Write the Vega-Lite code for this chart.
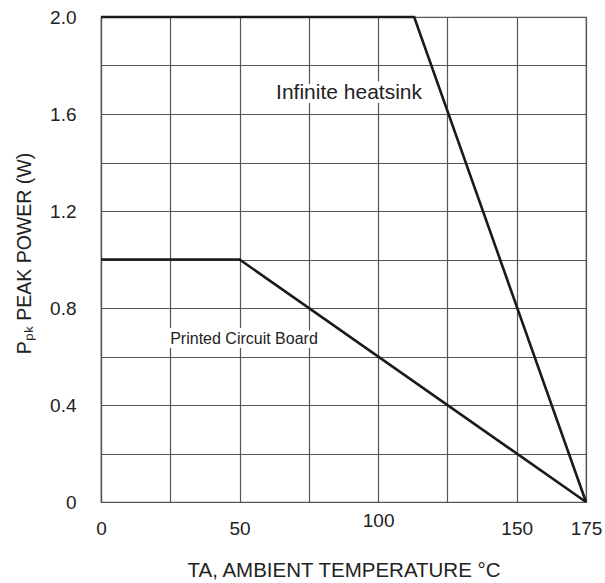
{
  "$schema": "https://vega.github.io/schema/vega-lite/v6.json",
  "width": 485,
  "height": 485,
  "autosize": {"type": "none"},
  "padding": {"left": 101, "top": 17, "right": 19, "bottom": 81},
  "background": "white",
  "config": {
    "view": {"stroke": "#555555", "strokeWidth": 1.2},
    "font": "Liberation Sans",
    "axis": {
      "labelFont": "Liberation Sans",
      "titleFont": "Liberation Sans",
      "labelColor": "#222222",
      "titleColor": "#222222",
      "titleFontWeight": "normal",
      "gridColor": "#555555",
      "gridWidth": 1.2,
      "gridOpacity": 1,
      "domainColor": "#555555",
      "domainWidth": 1.2,
      "ticks": false
    }
  },
  "datasets": {
    "curves": [
      {"series": "Infinite heatsink", "temp": 0, "power": 2.0},
      {"series": "Infinite heatsink", "temp": 113, "power": 2.0},
      {"series": "Infinite heatsink", "temp": 175, "power": 0},
      {"series": "Printed Circuit Board", "temp": 0, "power": 1.0},
      {"series": "Printed Circuit Board", "temp": 50, "power": 1.0},
      {"series": "Printed Circuit Board", "temp": 175, "power": 0}
    ],
    "labels": [
      {"label": "Infinite heatsink", "temp": 89.5, "power": 1.687},
      {"label": "Printed Circuit Board", "temp": 51.6, "power": 0.672}
    ]
  },
  "layer": [
    {
      "data": {"name": "curves"},
      "mark": {"type": "line", "color": "#1a1a1a", "strokeWidth": 2.6, "clip": false},
      "encoding": {
        "x": {
          "field": "temp", "type": "quantitative",
          "scale": {"domain": [0, 175], "nice": false, "zero": false},
          "axis": {
            "values": [0, 25, 50, 75, 100, 125, 150, 175],
            "labelExpr": "(datum.value == 25 || datum.value == 75 || datum.value == 125) ? '' : datum.label",
            "labelFontSize": 19,
            "labelPadding": {"expr": "datum.value == 100 ? 9 : 17"},
            "labelFlush": false,
            "title": "TA, AMBIENT TEMPERATURE °C",
            "titleFontSize": 20.5,
            "titlePadding": 22
          }
        },
        "y": {
          "field": "power", "type": "quantitative",
          "scale": {"domain": [0, 2], "nice": false},
          "axis": {
            "values": [0, 0.2, 0.4, 0.6, 0.8, 1.0, 1.2, 1.4, 1.6, 1.8, 2.0],
            "labelExpr": "datum.value == 0 ? '0' : (round(datum.value * 10) % 4 == 0 ? format(datum.value, '.1f') : '')",
            "labelFontSize": 19,
            "labelPadding": 25,
            "labelFlush": false,
            "title": "Pₚₖ PEAK POWER (W)",
            "titleFontSize": 19.5,
            "titlePadding": 15,
            "titleY": 236
          }
        },
        "detail": {"field": "series"}
      }
    },
    {
      "data": {"name": "labels"},
      "transform": [{"filter": "datum.label == 'Infinite heatsink'"}],
      "mark": {"type": "text", "fontSize": 21, "font": "Liberation Sans", "stroke": "white", "strokeWidth": 8, "fill": "white"},
      "encoding": {
        "x": {"field": "temp", "type": "quantitative"},
        "y": {"field": "power", "type": "quantitative"},
        "text": {"field": "label"}
      }
    },
    {
      "data": {"name": "labels"},
      "transform": [{"filter": "datum.label == 'Infinite heatsink'"}],
      "mark": {"type": "text", "fontSize": 21, "font": "Liberation Sans", "fill": "#222222"},
      "encoding": {
        "x": {"field": "temp", "type": "quantitative"},
        "y": {"field": "power", "type": "quantitative"},
        "text": {"field": "label"}
      }
    },
    {
      "data": {"name": "labels"},
      "transform": [{"filter": "datum.label == 'Printed Circuit Board'"}],
      "mark": {"type": "text", "fontSize": 16, "font": "Liberation Sans", "stroke": "white", "strokeWidth": 8, "fill": "white"},
      "encoding": {
        "x": {"field": "temp", "type": "quantitative"},
        "y": {"field": "power", "type": "quantitative"},
        "text": {"field": "label"}
      }
    },
    {
      "data": {"name": "labels"},
      "transform": [{"filter": "datum.label == 'Printed Circuit Board'"}],
      "mark": {"type": "text", "fontSize": 16, "font": "Liberation Sans", "fill": "#222222"},
      "encoding": {
        "x": {"field": "temp", "type": "quantitative"},
        "y": {"field": "power", "type": "quantitative"},
        "text": {"field": "label"}
      }
    }
  ]
}
